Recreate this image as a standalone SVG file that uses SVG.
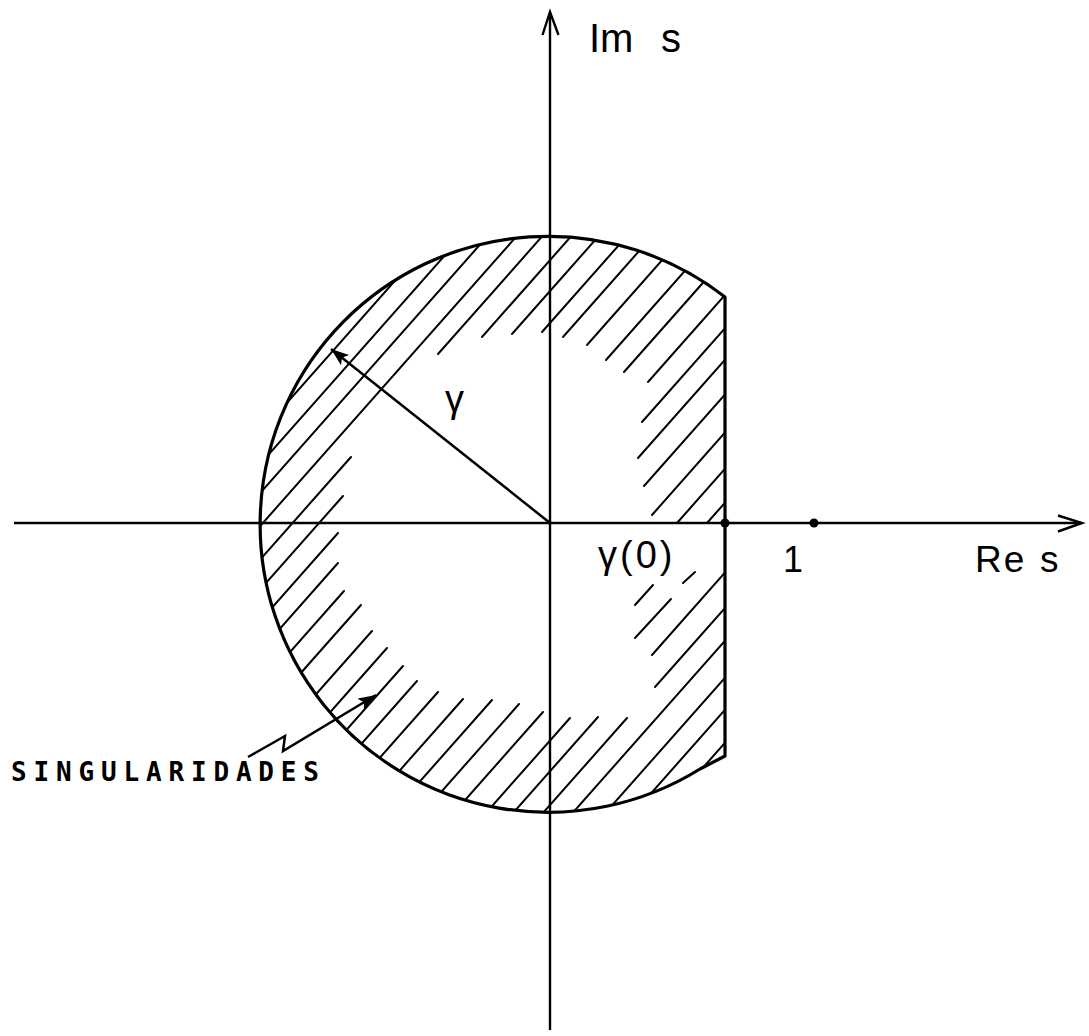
<svg xmlns="http://www.w3.org/2000/svg" width="1089" height="1036" viewBox="0 0 1089 1036">
<style>
.ax{stroke:#000;stroke-width:2.4;fill:none}
.hatch line{stroke:#000;stroke-width:2;stroke-linecap:round}
.outline{stroke:#000;stroke-width:3.2;fill:none;stroke-linejoin:round}
.lbl{font-family:"Liberation Sans","DejaVu Sans",sans-serif;fill:#000}
.mono{font-family:"DejaVu Sans Mono","Liberation Mono",monospace;font-weight:bold;fill:#000}
</style>
<defs>
<clipPath id="shape"><path d="M725,297 A288,288 0 1 0 700,769 L725,756 Z"/></clipPath>
<marker id="ah" markerUnits="userSpaceOnUse" viewBox="0 0 20 14" markerWidth="20" markerHeight="14" refX="18" refY="6.5" orient="auto"><path d="M0,0 L18,6.5 L0,13 L4,6.5 Z" fill="#000"/></marker>
</defs>
<rect width="1089" height="1036" fill="#fff"/>
<g id="hatching" class="hatch" clip-path="url(#shape)">
<line x1="150" y1="557.5" x2="650" y2="-7.5"/>
<line x1="150" y1="588.5" x2="650" y2="23.5"/>
<line x1="150" y1="617.5" x2="650" y2="52.5"/>
<line x1="150" y1="650.5" x2="650" y2="85.5"/>
<line x1="351" y1="457" x2="101" y2="739.5"/><line x1="438" y1="354" x2="688" y2="71.5"/>
<line x1="343" y1="496" x2="93" y2="778.5"/><line x1="482" y1="337" x2="732" y2="54.5"/>
<line x1="338" y1="533" x2="88" y2="815.5"/><line x1="512" y1="334" x2="762" y2="51.5"/>
<line x1="338" y1="563" x2="88" y2="845.5"/><line x1="542" y1="332" x2="792" y2="49.5"/>
<line x1="344" y1="591" x2="94" y2="873.5"/><line x1="563" y1="337" x2="813" y2="54.5"/>
<line x1="361" y1="605" x2="111" y2="887.5"/><line x1="587" y1="345" x2="837" y2="62.5"/>
<line x1="372" y1="631" x2="122" y2="913.5"/><line x1="606" y1="360" x2="856" y2="77.5"/>
<line x1="387" y1="648" x2="137" y2="930.5"/><line x1="624" y1="372" x2="874" y2="89.5"/>
<line x1="403" y1="666" x2="153" y2="948.5"/><line x1="648" y1="382" x2="898" y2="99.5"/>
<line x1="417" y1="681" x2="167" y2="963.5"/><line x1="642" y1="422" x2="892" y2="139.5"/>
<line x1="438" y1="692" x2="188" y2="974.5"/><line x1="638" y1="458" x2="888" y2="175.5"/>
<line x1="463" y1="699" x2="213" y2="981.5"/><line x1="644" y1="486" x2="894" y2="203.5"/>
<line x1="492" y1="700" x2="242" y2="982.5"/><line x1="652" y1="515" x2="902" y2="232.5"/>
<line x1="519" y1="704" x2="269" y2="986.5"/><line x1="677" y1="523" x2="927" y2="240.5"/>
<line x1="543" y1="712" x2="293" y2="994.5"/><line x1="635" y1="605" x2="653" y2="585"/><line x1="707" y1="523" x2="957" y2="240.5"/>
<line x1="570" y1="718" x2="320" y2="1000.5"/><line x1="635" y1="638" x2="671" y2="599"/><line x1="683" y1="583" x2="695" y2="572"/>
<line x1="598" y1="717" x2="348" y2="999.5"/><line x1="652" y1="655" x2="902" y2="372.5"/>
<line x1="627" y1="718" x2="377" y2="1000.5"/><line x1="655" y1="687" x2="905" y2="404.5"/>
<line x1="500" y1="895" x2="800" y2="556"/>
<line x1="500" y1="932" x2="800" y2="593"/>
<line x1="500" y1="964" x2="800" y2="625"/>
<line x1="500" y1="997" x2="800" y2="658"/>
</g>
<g id="region">
<path class="outline" d="M725,297 A288,288 0 1 0 700,769 L725,756 Z"/>
</g>
<g id="connectors">
<line class="ax" x1="14" y1="523" x2="1081" y2="523"/>
<polyline class="ax" points="1058,515.5 1082,523 1058,531.5"/>
<line class="ax" x1="550" y1="13" x2="550" y2="1030"/>
<polyline class="ax" points="542.5,35 550,12 558.5,35"/>
<line x1="550" y1="523" x2="331" y2="349" stroke="#000" stroke-width="2.5" marker-end="url(#ah)"/>
<polyline points="248,757 285,736 283,751 376,695" fill="none" stroke="#000" stroke-width="2.5" stroke-linejoin="miter" marker-end="url(#ah)"/>
</g>
<g id="points">
<circle cx="725" cy="523" r="4.5" fill="#000"/>
<circle cx="814" cy="523" r="4.5" fill="#000"/>
</g>
<g id="labels">
<text class="lbl" x="589" y="52" font-size="40">Im<tspan x="661">s</tspan></text>
<text class="lbl" x="975" y="572" font-size="37" letter-spacing="2">Re<tspan x="1040" letter-spacing="0">s</tspan></text>
<text class="lbl" x="783" y="572" font-size="36">1</text>
<text class="lbl" x="598" y="568" font-size="38" letter-spacing="3">γ(0)</text>
<text class="lbl" x="445" y="412" font-size="38">γ</text>
<text class="mono" x="11" y="781" font-size="26" textLength="308" lengthAdjust="spacing">SINGULARIDADES</text>
</g>
</svg>
